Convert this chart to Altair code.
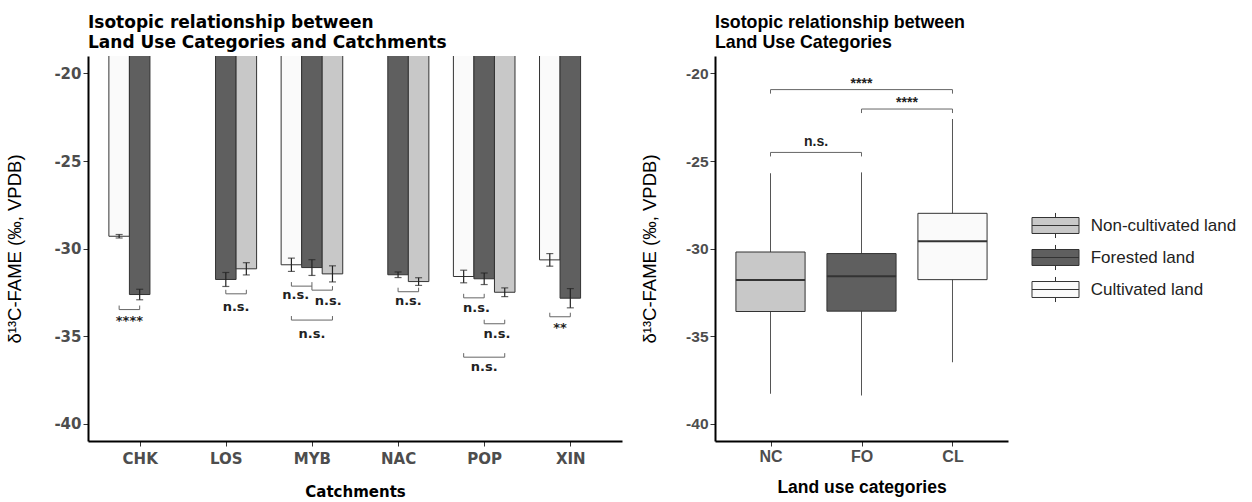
import json

import altair as alt
import pandas as pd

# ---------------------------------------------------------------- data
catchments = ["CHK", "LOS", "MYB", "NAC", "POP", "XIN"]
land_codes = ["NC", "FO", "CL"]
land_names = ["Non-cultivated land", "Forested land", "Cultivated land"]
land_fills = ["#C8C8C8", "#5F5F5F", "#FAFAFA"]

# mean ± SE of d13C-FAME per catchment and land use
bar_catchment = ["CHK", "CHK", "LOS", "LOS", "MYB", "MYB", "MYB",
                 "NAC", "NAC", "POP", "POP", "POP", "XIN", "XIN"]
bar_land = ["CL", "FO", "FO", "NC", "CL", "FO", "NC",
            "FO", "NC", "CL", "FO", "NC", "CL", "FO"]
bar_mean = [-29.30, -32.63, -31.77, -31.16, -30.93, -31.09, -31.45,
            -31.50, -31.89, -31.60, -31.73, -32.50, -30.65, -32.84]
bar_se = [0.10, 0.30, 0.40, 0.35, 0.38, 0.45, 0.46,
          0.16, 0.22, 0.36, 0.33, 0.25, 0.36, 0.55]

# pairwise tests within each catchment
cmp_catchment = ["CHK", "LOS", "MYB", "MYB", "MYB", "NAC", "POP", "POP", "POP", "XIN"]
cmp_group1 = ["CL", "FO", "CL", "FO", "CL", "FO", "CL", "FO", "CL", "CL"]
cmp_group2 = ["FO", "NC", "FO", "NC", "NC", "NC", "FO", "NC", "NC", "FO"]
cmp_y = [-33.49, -32.59, -32.15, -32.38, -34.09, -32.47, -32.82, -34.30, -36.21, -33.90]
cmp_label = ["****", "n.s.", "n.s.", "n.s.", "n.s.", "n.s.", "n.s.", "n.s.", "n.s.", "**"]
cmp_label_y = [-34.36, -33.56, -32.86, -33.24, -35.11, -33.24, -33.62, -35.14, -36.98, -34.76]
cmp_label_shift = [0, 0, -0.07, 0.07, 0, 0, 0.03, 0.03, 0, 0]

# box-plot summaries per land use
box_land = ["NC", "FO", "CL"]
box_min = [-38.30, -38.40, -36.50]
box_q1 = [-33.60, -33.58, -31.78]
box_median = [-31.80, -31.58, -29.58]
box_q3 = [-30.20, -30.29, -27.99]
box_max = [-25.70, -25.65, -22.60]

# pairwise tests between land uses
lu_group1 = ["NC", "FO", "NC"]
lu_group2 = ["CL", "CL", "FO"]
lu_y = [-20.92, -22.03, -24.51]
lu_label = ["****", "****", "n.s."]
lu_label_y = [-20.80, -21.94, -24.14]

# ---------------------------------------------------------------- layout constants
Y_DOMAIN = [-41, -19]
SLOT = 0.2384            # width of one dodged bar, in catchment units
SLOT_OFFSET = {"CL": -SLOT, "FO": 0.0, "NC": SLOT}
CAT_INDEX = {c: i for i, c in enumerate(catchments)}
LU_INDEX = {c: i for i, c in enumerate(box_land)}
NAME = dict(zip(land_codes, land_names))
TIP = 0.23

WIDE = "DejaVu Sans"
SANS = "Liberation Sans"

color_scale = alt.Scale(domain=land_names, range=land_fills)

# ---------------------------------------------------------------- tables
bars = pd.DataFrame({"catchment": bar_catchment, "land": bar_land,
                     "mean": bar_mean, "se": bar_se})
bars["land_name"] = bars["land"].map(NAME)
bars["pos"] = bars["catchment"].map(CAT_INDEX) + bars["land"].map(SLOT_OFFSET)
bars["x1"] = bars["pos"] - SLOT / 2
bars["x2"] = bars["pos"] + SLOT / 2
bars["lo"] = bars["mean"] - bars["se"]
bars["hi"] = bars["mean"] + bars["se"]

cmp = pd.DataFrame({"catchment": cmp_catchment, "g1": cmp_group1, "g2": cmp_group2,
                    "y": cmp_y, "label": cmp_label, "label_y": cmp_label_y,
                    "shift": cmp_label_shift})
base_i = cmp["catchment"].map(CAT_INDEX)
cmp["xa"] = base_i + cmp["g1"].map(SLOT_OFFSET)
cmp["xb"] = base_i + cmp["g2"].map(SLOT_OFFSET)
cmp["ytip"] = cmp["y"] + TIP
cmp["label_x"] = (cmp["xa"] + cmp["xb"]) / 2 + cmp["shift"]
cmp_ends = pd.concat([cmp[["xa", "y", "ytip"]].rename(columns={"xa": "x"}),
                      cmp[["xb", "y", "ytip"]].rename(columns={"xb": "x"})])

boxes = pd.DataFrame({"land": box_land, "lower": box_min, "q1": box_q1,
                      "median": box_median, "q3": box_q3, "upper": box_max})
boxes["land_name"] = boxes["land"].map(NAME)
boxes["i"] = boxes["land"].map(LU_INDEX)
boxes["x1"] = boxes["i"] - 0.38
boxes["x2"] = boxes["i"] + 0.38

lu = pd.DataFrame({"g1": lu_group1, "g2": lu_group2, "y": lu_y,
                   "label": lu_label, "label_y": lu_label_y})
lu["xa"] = lu["g1"].map(LU_INDEX)
lu["xb"] = lu["g2"].map(LU_INDEX)
lu["ytip"] = lu["y"] - TIP
lu["label_x"] = (lu["xa"] + lu["xb"]) / 2
lu_ends = pd.concat([lu[["xa", "y", "ytip"]].rename(columns={"xa": "x"}),
                     lu[["xb", "y", "ytip"]].rename(columns={"xb": "x"})])

# ---------------------------------------------------------------- axes
Y_TITLE = "δ¹³C-FAME (‰, VPDB)"
Y_TICKS = [-40, -35, -30, -25, -20]
y_scale = alt.Scale(domain=Y_DOMAIN, nice=False, zero=False)


def label_expr(names):
    return f"{json.dumps(names)}[datum.value]"


def y_axis(label_font, label_size, title_padding):
    # plain hyphen-minus in the tick labels
    return alt.Axis(values=Y_TICKS, title=Y_TITLE, labelExpr="'' + datum.value",
                    labelFont=label_font, labelFontSize=label_size,
                    labelFontWeight="bold", labelColor="#4D4D4D", labelPadding=2,
                    titleFont=SANS, titleFontSize=18.5, titleFontWeight="normal",
                    titleColor="black", titlePadding=title_padding)


def x_axis(names, title, font, label_size, title_size, label_pad, title_pad):
    return alt.Axis(values=list(range(len(names))), labelExpr=label_expr(names),
                    title=title, labelFont=font, labelFontSize=label_size,
                    labelFontWeight="bold", labelColor="#4D4D4D", labelPadding=label_pad,
                    titleFont=font, titleFontSize=title_size, titleFontWeight="bold",
                    titleColor="black", titlePadding=title_pad)


x_left = alt.Scale(domain=[-0.6, 5.6], nice=False, zero=False)
x_right = alt.Scale(domain=[-0.61, 2.61], nice=False, zero=False)

# ---------------------------------------------------------------- left: grouped bars
bar_layer = alt.Chart(bars).mark_bar(stroke="#333333", strokeWidth=1, clip=True).encode(
    x=alt.X("x1:Q", scale=x_left,
            axis=x_axis(catchments, "Catchments", WIDE, 15, 15, 5, 18)),
    x2="x2",
    y=alt.Y("mean:Q", scale=y_scale, axis=y_axis(WIDE, 15, 29)),
    y2=alt.datum(0),
    color=alt.Color("land_name:N", scale=color_scale, legend=None),
)
err_stem = alt.Chart(bars).mark_rule(color="#222222", strokeWidth=1.2).encode(
    x="pos:Q", y="lo:Q", y2="hi")
err_lo = alt.Chart(bars).mark_tick(orient="horizontal", size=7, thickness=1.2,
                                   color="#222222").encode(x="pos:Q", y="lo:Q")
err_hi = alt.Chart(bars).mark_tick(orient="horizontal", size=7, thickness=1.2,
                                   color="#222222").encode(x="pos:Q", y="hi:Q")
cmp_bar = alt.Chart(cmp).mark_rule(color="#666666", strokeWidth=1).encode(
    x="xa:Q", x2="xb", y="y:Q")
cmp_tips = alt.Chart(cmp_ends).mark_rule(color="#666666", strokeWidth=1).encode(
    x="x:Q", y="y:Q", y2="ytip")
cmp_text = alt.Chart(cmp).mark_text(
    font=WIDE, fontWeight="bold", fontSize=13, color="#222222",
    baseline="alphabetic", align="center",
).encode(x="label_x:Q", y="label_y:Q", text="label:N")

left = alt.layer(bar_layer, err_stem, err_lo, err_hi, cmp_bar, cmp_tips, cmp_text).properties(
    width=534, height=385,
    title=alt.TitleParams(
        ["Isotopic relationship between", "Land Use Categories and Catchments"],
        font=WIDE, fontSize=17, fontWeight="bold", color="black",
        anchor="start", frame="group", lineHeight=20, offset=4),
)

# ---------------------------------------------------------------- right: box plots
LEGEND_SYMBOL = ("M-1.5,-0.51H1.5V0.51H-1.5Z M-1.5,0H1.5 "
                 "M0,-0.51V-0.8 M0,0.51V0.8")

whisker = alt.Chart(boxes).mark_rule(color="#555555", strokeWidth=1).encode(
    x=alt.X("i:Q", scale=x_right,
            axis=x_axis(box_land, "Land use categories", SANS, 16, 17.5, 2, 14)),
    y=alt.Y("lower:Q", scale=y_scale, axis=y_axis(SANS, 15.5, 26)),
    y2="upper",
)
box = alt.Chart(boxes).mark_bar(stroke="#333333", strokeWidth=1).encode(
    x="x1:Q", x2="x2", y="q1:Q", y2="q3",
    color=alt.Color(
        "land_name:N", scale=color_scale,
        legend=alt.Legend(
            title=None, orient="none", legendX=324, legendY=153,
            symbolType=LEGEND_SYMBOL, symbolSize=982,
            symbolStrokeColor="#333333", symbolStrokeWidth=1,
            labelFont=SANS, labelFontSize=17, labelColor="#222222",
            labelOffset=18.7, rowPadding=0,
        ),
    ),
)
median = alt.Chart(boxes).mark_rule(color="#333333", strokeWidth=2).encode(
    x="x1:Q", x2="x2", y="median:Q")
lu_bar = alt.Chart(lu).mark_rule(color="#666666", strokeWidth=1).encode(
    x="xa:Q", x2="xb", y="y:Q")
lu_tips = alt.Chart(lu_ends).mark_rule(color="#666666", strokeWidth=1).encode(
    x="x:Q", y="y:Q", y2="ytip")
lu_text = alt.Chart(lu).mark_text(
    font=SANS, fontWeight="bold", fontSize=14, color="#222222",
    baseline="alphabetic", align="center",
).encode(x="label_x:Q", y="label_y:Q", text="label:N")

right = alt.layer(whisker, box, median, lu_bar, lu_tips, lu_text).properties(
    width=293, height=385,
    title=alt.TitleParams(
        ["Isotopic relationship between", "Land Use Categories"],
        font=SANS, fontSize=17.8, fontWeight="bold", color="black",
        anchor="start", frame="group", lineHeight=20, offset=4),
)

# ---------------------------------------------------------------- compose
chart = (
    alt.hconcat(left, right, spacing=18)
    .resolve_legend(color="independent")
    .properties(background="white", padding={"left": 5, "top": 14, "right": 5, "bottom": 5})
    .configure_view(stroke=None)
    .configure_axis(grid=False, domainColor="black", domainWidth=2,
                    tickColor="#333333", tickSize=5, tickWidth=1)
)

chart.save("out.html", embed_options={"renderer": "svg", "actions": False})
